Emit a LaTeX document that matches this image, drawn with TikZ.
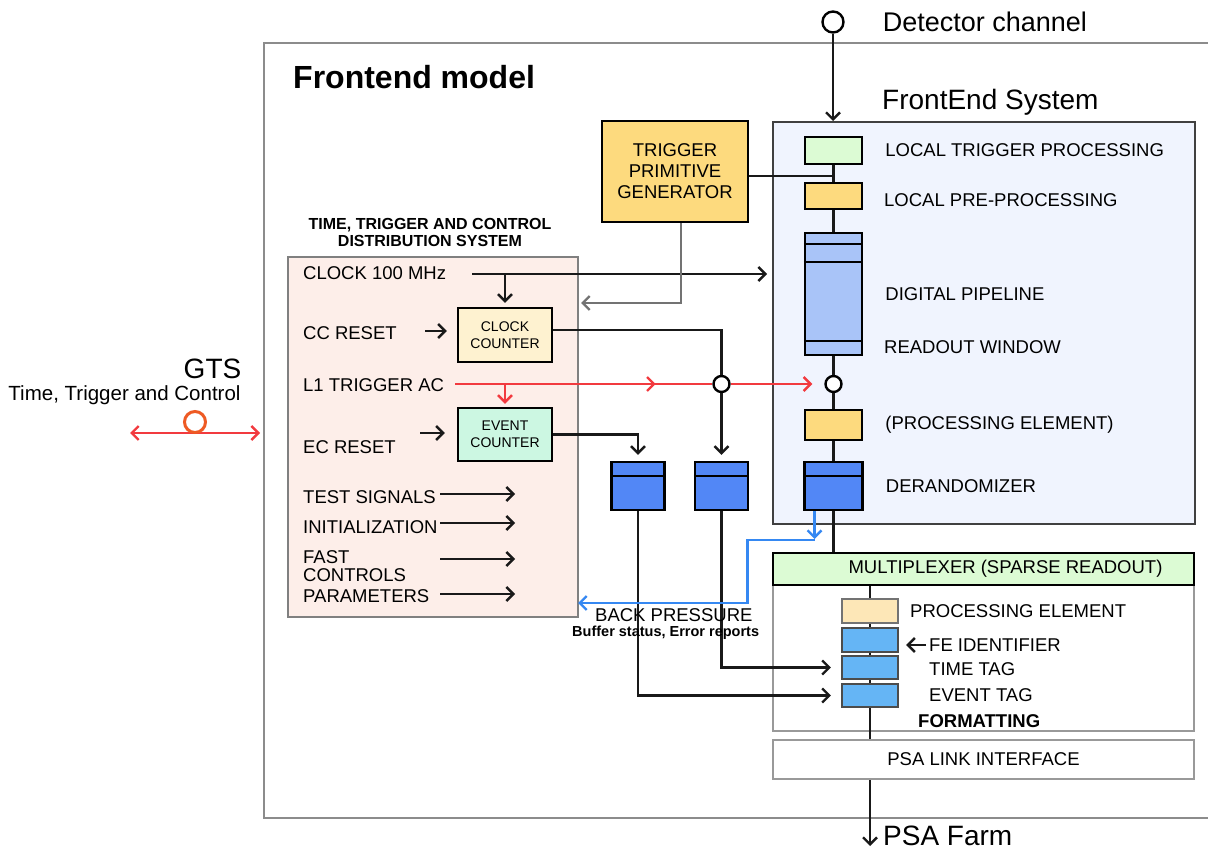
\documentclass[tikz,border=0pt]{standalone}
\usepackage{fontspec}
\setmainfont{Liberation Sans}
\usetikzlibrary{positioning,arrows.meta,decorations.markings}

\definecolor{fepanel}{HTML}{F0F4FE}
\definecolor{ttcpink}{HTML}{FDEEE9}
\definecolor{tpgyellow}{HTML}{FDDA7E}
\definecolor{ltpgreen}{HTML}{DCFBD4}
\definecolor{pipeblue}{HTML}{A9C4F8}
\definecolor{derblue}{HTML}{5287F6}
\definecolor{ccyellow}{HTML}{FEF2D0}
\definecolor{ecgreen}{HTML}{CCF7E2}
\definecolor{pebeige}{HTML}{FDE7B7}
\definecolor{tagblue}{HTML}{65B5F5}
\definecolor{sigred}{HTML}{F23A3F}
\definecolor{bpblue}{HTML}{3588F2}
\definecolor{gtsorange}{HTML}{EE5A24}

\begin{document}
\begin{tikzpicture}[x=1pt,y=-1pt,
    every node/.style={font=\fontsize{18.5}{21}\selectfont},
    box/.style={draw, line width=2.4pt, inner sep=0pt},
    panel/.style={draw=black!75, line width=2pt, inner sep=0pt},
    greybox/.style={draw=black!40, line width=2.2pt, inner sep=0pt},
    lbl/.style={anchor=west, inner sep=0pt},
    junction/.style={circle, draw, fill=white, line width=2.4pt, minimum size=16pt, inner sep=0pt},
    conn/.style={line width=2.1pt, draw=black!90},
    tip/.style={-{Straight Barb[length=7pt,width=14pt,line width=2.4pt]}},
    arr/.style={conn, tip},
    greyarr/.style={arr, draw=black!55},
    redln/.style={line width=2.1pt, draw=sigred},
    redarr/.style={redln, tip},
    bluearr/.style={line width=2.3pt, draw=bpblue, tip},
    midarrow/.style={postaction={decorate}, decoration={markings,
        mark=at position #1 with {\arrow{Straight Barb[length=7pt,width=14pt,line width=2.4pt]}}}},
  ]
  \useasboundingbox (0,0) rectangle (1208,850);

  % outer frame and panels
  \draw[draw=black!45, line width=2pt] (1210,43) -| (264,818) -- (1210,818);
  \node[lbl, font=\bfseries\fontsize{32}{36}\selectfont] (fem) at (293,77) {Frontend model};

  \node[panel, fill=fepanel, minimum width=422pt, minimum height=402pt] (fes) at (984,323) {};
  \node[lbl, font=\fontsize{28}{32}\selectfont] (feslbl) at (882,102) {FrontEnd System};

  \node[panel, draw=black!50, fill=ttcpink, minimum width=290pt, minimum height=360pt] (ttc) at (433,437) {};
  \node[font=\bfseries\fontsize{16}{17}\selectfont, align=center] (ttchead) at (430,232)
      {TIME, TRIGGER AND CONTROL\\ DISTRIBUTION SYSTEM};

  % detector channel
  \node[junction, minimum size=21pt] (det) at (833,22) {};
  \node[lbl, font=\fontsize{27}{30}\selectfont, right=38pt of det] (detlbl) {Detector channel};

  % frontend chain
  \node[box, fill=ltpgreen, minimum width=57pt, minimum height=27pt] (ltp) at (833.5,150.5) {};
  \node[box, fill=tpgyellow, minimum width=57pt, minimum height=26pt] (lpp) at (833.5,196) {};
  \node[box, fill=pipeblue, minimum width=57pt, minimum height=122pt] (pipe) at (833.5,294) {};
  \node[junction] (jB) at (833.5,384) {};
  \node[box, fill=tpgyellow, minimum width=57pt, minimum height=30pt] (pe) at (833.5,425) {};
  \node[box, fill=derblue, minimum width=58pt, minimum height=48pt] (der) at (833.5,486) {};

  \node[lbl, right=22pt of ltp] (ltplbl) {LOCAL TRIGGER PROCESSING};
  \node[lbl] (lpplbl) at (884,200) {LOCAL PRE-PROCESSING};
  \node[lbl, right=22pt of pipe] (pipelbl) {DIGITAL PIPELINE};
  \node[lbl] (rowlbl) at (884,347) {READOUT WINDOW};
  \node[lbl, right=22pt of pe] (pelbl) {(PROCESSING ELEMENT)};
  \node[lbl, right=22pt of der] (derlbl) {DERANDOMIZER};

  \node[box, fill=tpgyellow, minimum width=146pt, minimum height=101pt, align=center] (tpg) at (675,171.5)
      {TRIGGER\\PRIMITIVE\\GENERATOR};

  % counters and buffers
  \node[box, fill=ccyellow, minimum width=94pt, minimum height=54pt, align=center,
        font=\fontsize{14}{17}\selectfont] (cc) at (505,335) {CLOCK\\COUNTER};
  \node[box, fill=ecgreen, minimum width=94pt, minimum height=53pt, align=center,
        font=\fontsize{14}{17}\selectfont] (ec) at (505,434.5) {EVENT\\COUNTER};
  \node[junction] (jA) at (721.5,384) {};
  \node[box, fill=derblue, minimum width=53pt, minimum height=48pt] (lbuf) at (638,486) {};
  \node[box, fill=derblue, minimum width=53pt, minimum height=48pt] (mbuf) at (721.5,486) {};
  \foreach \b in {lbuf,mbuf,der}
    \draw[line width=2.4pt] ([yshift=-15pt]\b.north west) -- ([yshift=-15pt]\b.north east);
  \foreach \d in {12,30}
    \draw[line width=2pt] ([yshift=-\d pt]pipe.north west) -- ([yshift=-\d pt]pipe.north east);
  \draw[line width=2pt] ([yshift=15pt]pipe.south west) -- ([yshift=15pt]pipe.south east);

  % TTC signals
  \node[lbl] (clk) at (303,273) {CLOCK 100 MHz};
  \node[lbl] (ccr) at (303,333) {CC RESET};
  \node[lbl] (l1) at (303,385) {L1 TRIGGER AC};
  \node[lbl] (ecr) at (303,447) {EC RESET};
  \node[lbl] (tsig) at (303,497) {TEST SIGNALS};
  \node[lbl] (init) at (303,527) {INITIALIZATION};
  \node[lbl, align=left, font=\fontsize{18.5}{18}\selectfont] (fast) at (303,566) {FAST\\CONTROLS};
  \node[lbl] (par) at (303,596) {PARAMETERS};

  \coordinate (clkA) at (472,274);
  \coordinate (ccrA) at (425,331);
  \coordinate (ecrA) at (420,433);
  \coordinate (l1A) at (455,384);
  \coordinate (tpgin) at (581,303);
  \foreach \n/\y in {ts/494,in/523,fc/559,pa/594}{
    \coordinate (\n A) at (440,\y);
    \coordinate (\n B) at (515,\y);
    \draw[arr] (\n A) -- (\n B);
  }

  \draw[arr, shorten >=5pt] (clkA) -- (clkA -| fes.west);
  \draw[arr, shorten >=4pt] (cc.north |- clkA) -- (cc.north);
  \draw[arr, shorten >=10pt] (ccrA) -- (ccrA -| cc.west);
  \draw[arr, shorten >=12pt] (ecrA) -- (ecrA -| ec.west);
  \draw[greyarr] ([xshift=6pt]tpg.south) |- (tpgin);
  \draw[conn] ([yshift=-4.5pt]tpg.east) -- ([yshift=-4.5pt]tpg.east -| ltp);

  \draw[redln, midarrow=0.78] (l1A) -- (jA);
  \draw[redarr, shorten >=12pt] (jA) -- (jB);
  \draw[redarr, shorten >=3pt] (ec.north |- l1A) -- (ec.north);

  \draw[conn] ([yshift=5pt]cc.east) -| (jA);
  \draw[arr, shorten >=6pt] (jA) -- (jA |- mbuf.north);
  \draw[arr, shorten >=6pt] (ec.east) -| (lbuf.north);

  % frontend chain connections
  \draw[arr] (det) -- (det |- fes.north);
  \draw[conn] (ltp) -- (lpp) -- (pipe) -- (jB) -- (pe) -- (der);

  % readout part
  \node[greybox, minimum width=421pt, minimum height=146pt] (fmt) at (983.5,658) {};
  \node[box, fill=ltpgreen, minimum width=421pt, minimum height=32pt,
        label={[xshift=22pt]center:MULTIPLEXER (SPARSE READOUT)}] (mux) at (983.5,569) {};
  \node[greybox, minimum width=421pt, minimum height=39pt] (psa) at (983.5,759.5) {PSA LINK INTERFACE};

  \node[greybox, draw=black!55, fill=pebeige, minimum width=56pt, minimum height=24pt] (pe2) at (870,611) {};
  \node[greybox, draw=black!70, fill=tagblue, minimum width=56pt, minimum height=24pt] (feid) at (870,640) {};
  \node[greybox, draw=black!70, fill=tagblue, minimum width=56pt, minimum height=23pt] (ttag) at (870,667.5) {};
  \node[greybox, draw=black!70, fill=tagblue, minimum width=56pt, minimum height=23pt] (etag) at (870,695.5) {};

  \node[lbl] (pe2lbl) at (910,611) {PROCESSING ELEMENT};
  \node[lbl] (feidlbl) at (929,645) {FE IDENTIFIER};
  \node[lbl] (ttaglbl) at (929,669) {TIME TAG};
  \node[lbl] (etaglbl) at (929,695) {EVENT TAG};
  \node[lbl, font=\bfseries\fontsize{18.5}{21}\selectfont] (fmtlbl) at (918,721) {FORMATTING};

  \draw[conn] (der) -- (der |- mux.north);
  \draw[conn] (mux.south -| pe2) -- (pe2) -- (feid) -- (ttag) -- (etag) -- (etag |- psa.north);
  \draw[arr, shorten <=3pt, shorten >=7pt] (feidlbl.west) -- (feidlbl.west -| feid.east);
  \draw[arr, shorten >=10pt] (mbuf) |- (ttag.west);
  \draw[arr, shorten >=10pt] (lbuf) |- (etag.west);

  % back pressure
  \coordinate (bpturn) at (747.5,540);
  \coordinate (bpend) at (578,603);
  \draw[bluearr, shorten >=1pt] ([xshift=-19pt]der.south) -- ([xshift=-19pt]der.south |- bpturn);
  \draw[bluearr] ([xshift=-19pt]der.south |- bpturn) -- (bpturn) |- (bpend);
  \node[lbl] (bplbl) at (595,615) {BACK PRESSURE};
  \node[lbl, font=\bfseries\fontsize{14.5}{16}\selectfont] (bpsub) at (572,633) {Buffer status, Error reports};

  % PSA farm
  \coordinate (farmin) at (870,846);
  \node[lbl, font=\fontsize{28}{32}\selectfont] (farm) at (883,836) {PSA Farm};
  \draw[arr] (psa.south -| etag) -- (farmin);

  % GTS
  \node[font=\fontsize{28}{32}\selectfont] (gts) at (212.5,369) {GTS};
  \node[font=\fontsize{20.5}{24}\selectfont] (gtslbl) at (124.5,395) {Time, Trigger and Control};
  \coordinate (gtsL) at (130,433);
  \coordinate (gtsR) at (260,433);
  \draw[redln, {Straight Barb[length=7pt,width=14pt,line width=2.4pt]}-{Straight Barb[length=7pt,width=14pt,line width=2.4pt]}] (gtsL) -- (gtsR);
  \node[circle, draw=gtsorange, line width=3pt, minimum size=21pt, inner sep=0pt] (gtsring) at (195,422) {};
\end{tikzpicture}
\end{document}
